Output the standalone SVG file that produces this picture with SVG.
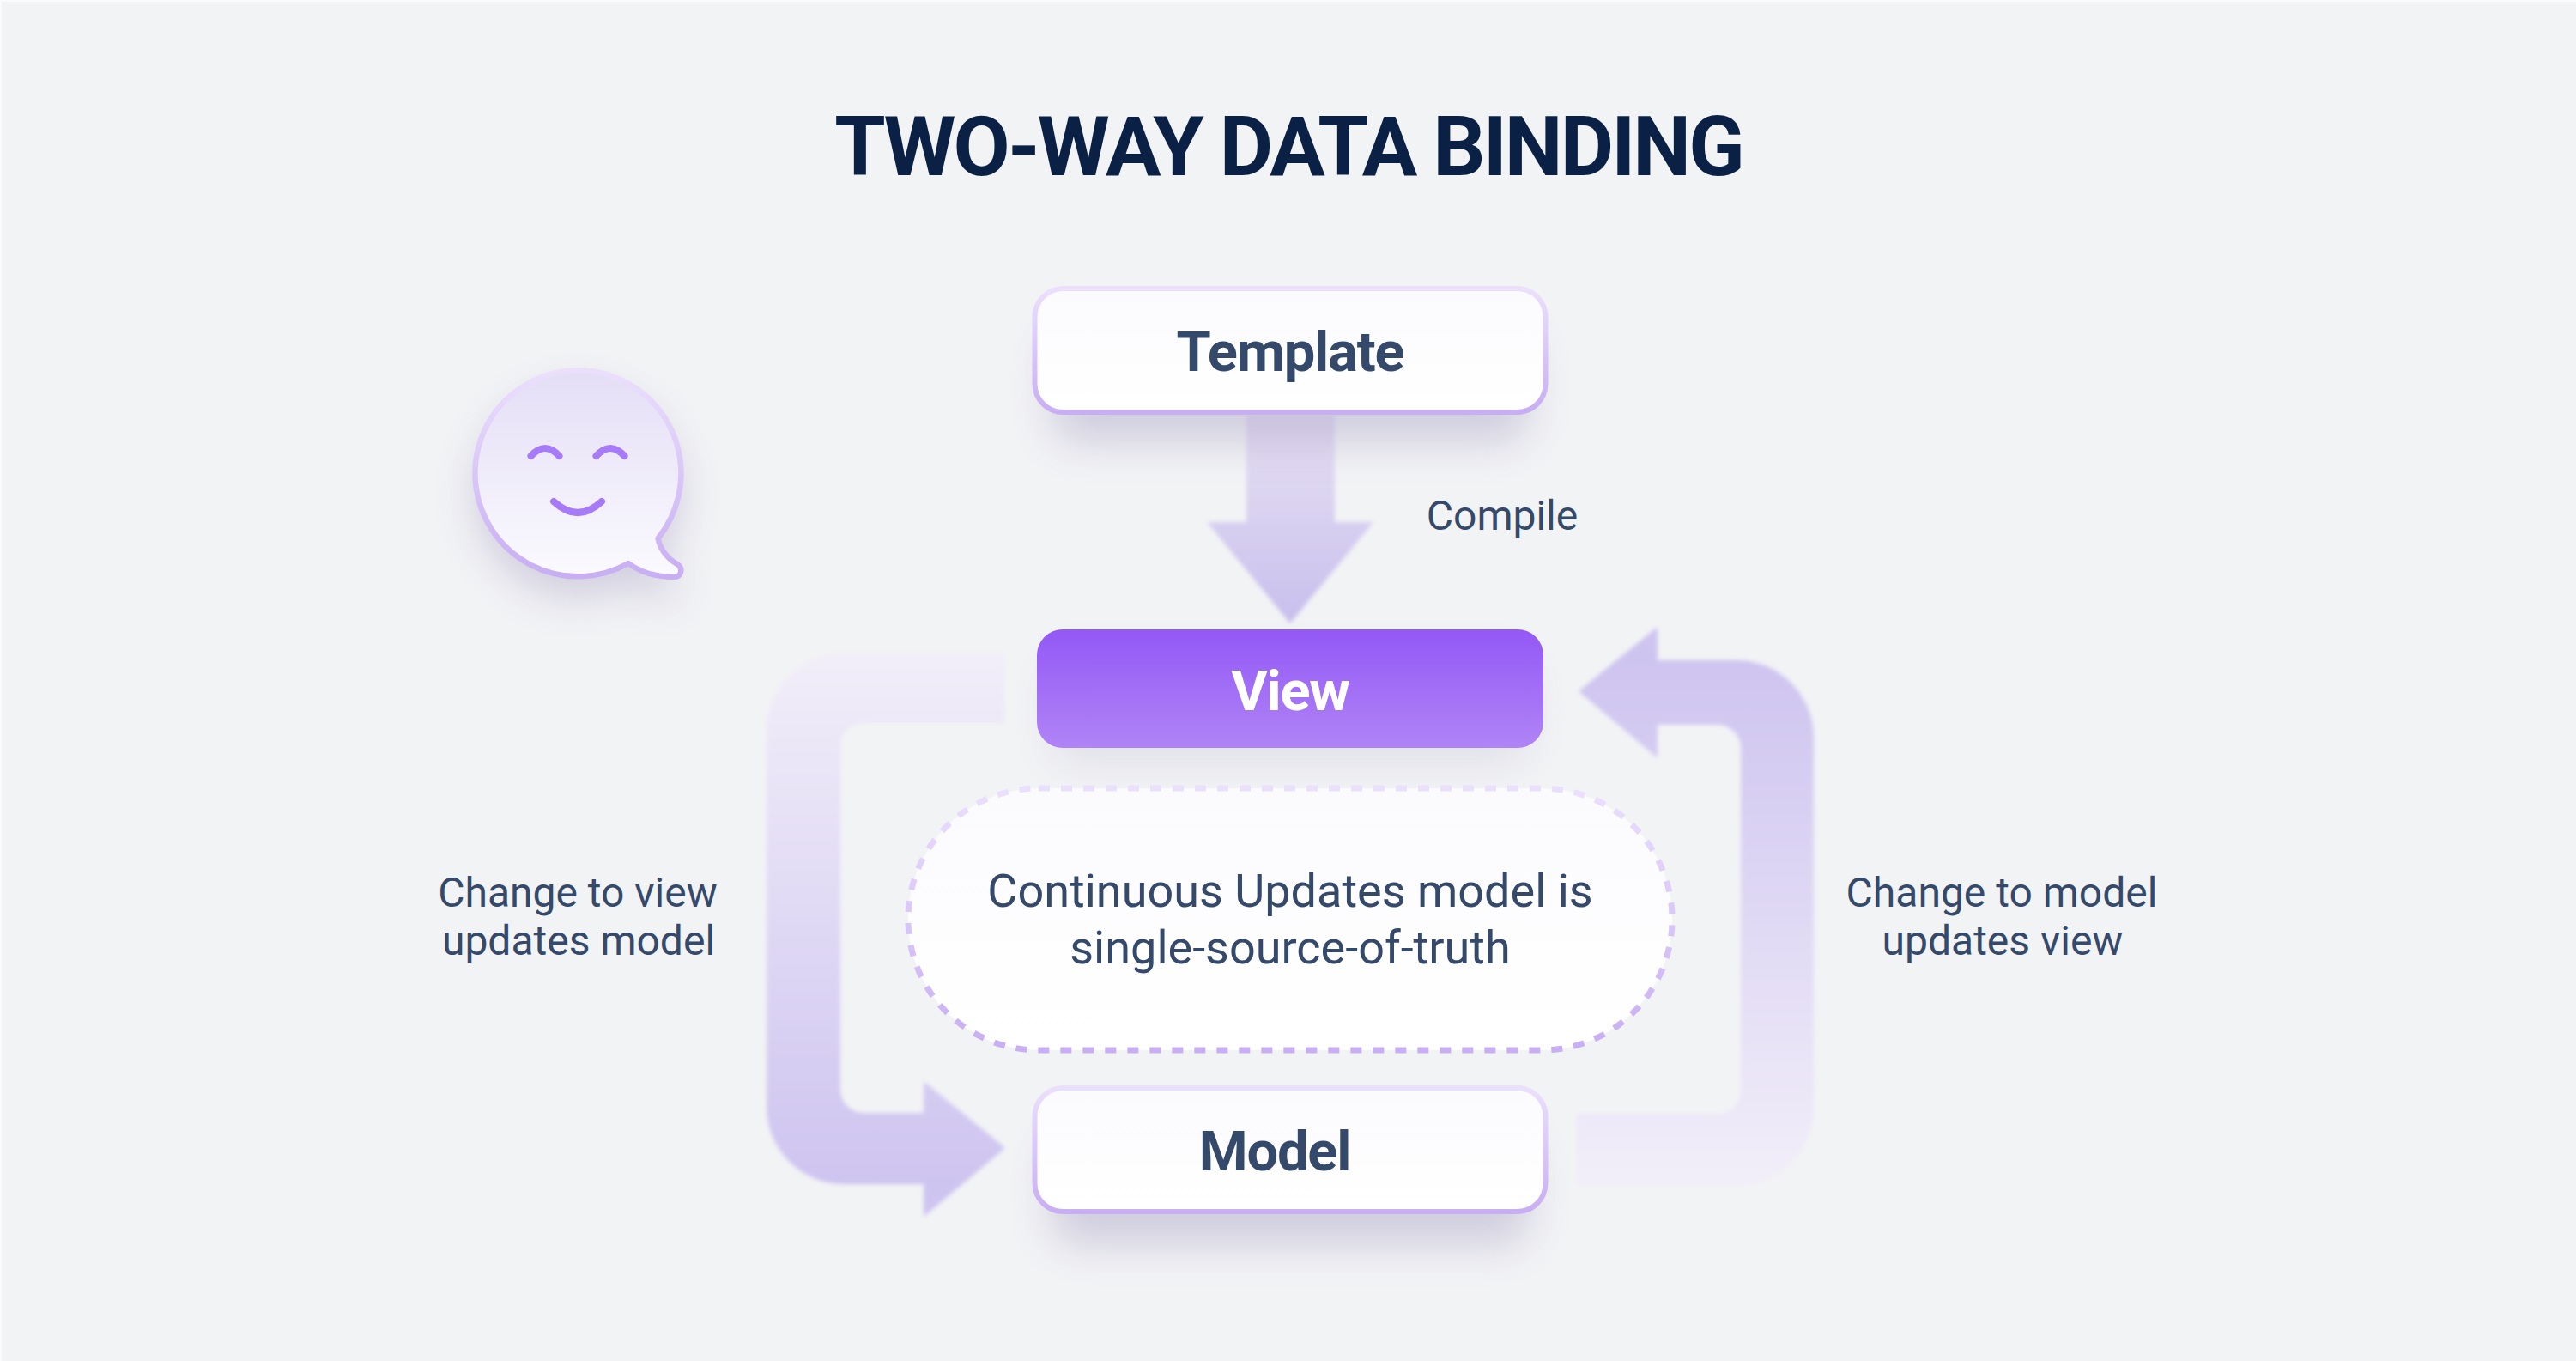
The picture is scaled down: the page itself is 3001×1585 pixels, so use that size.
<svg xmlns="http://www.w3.org/2000/svg" width="3001" height="1585" viewBox="0 0 3001 1585">
<style>
text{font-family:Roboto,"Liberation Sans",sans-serif;text-anchor:middle;fill:#35496b}
.title{font-size:96px;font-weight:700;fill:#0b2045;letter-spacing:-2.9px}
.head{font-size:65px;font-weight:700;letter-spacing:-1.2px}
.lab{font-size:48px;font-weight:400}
.mid{font-size:54px;font-weight:400}
.shadow{fill:#6f639e;opacity:.26;filter:url(#soft)}
.box{fill:url(#boxFill);stroke:url(#boxStroke);stroke-width:6}
.conn{filter:url(#edge)}
</style>
<defs>
<filter id="soft" x="-30%" y="-80%" width="160%" height="260%"><feGaussianBlur stdDeviation="24"/></filter>
<filter id="edge" x="-5%" y="-5%" width="110%" height="110%"><feGaussianBlur stdDeviation="2.6"/></filter>
<linearGradient id="boxFill" x1="0" y1="0" x2="0" y2="1"><stop offset="0" stop-color="#fbfbfe"/><stop offset="1" stop-color="#ffffff"/></linearGradient>
<linearGradient id="boxStroke" x1="0" y1="0" x2="0" y2="1"><stop offset="0" stop-color="#ebe0fc"/><stop offset="1" stop-color="#c8aef3"/></linearGradient>
<linearGradient id="viewFill" x1="0" y1="0" x2="0" y2="1"><stop offset="0" stop-color="#9358f6"/><stop offset="1" stop-color="#b084f6"/></linearGradient>
<linearGradient id="bubbleFill" x1="0" y1="0" x2="0" y2="1"><stop offset="0" stop-color="#e4def6"/><stop offset="1" stop-color="#fbfafe"/></linearGradient>
<linearGradient id="downFill" gradientUnits="userSpaceOnUse" x1="0" y1="483" x2="0" y2="726"><stop offset="0" stop-color="#e8e1f3"/><stop offset="1" stop-color="#c8bfed"/></linearGradient>
<linearGradient id="leftFill" gradientUnits="userSpaceOnUse" x1="0" y1="758" x2="0" y2="1380"><stop offset="0" stop-color="#f2eef9"/><stop offset="1" stop-color="#cec4f0"/></linearGradient>
<linearGradient id="rightFill" gradientUnits="userSpaceOnUse" x1="0" y1="766" x2="0" y2="1381"><stop offset="0" stop-color="#cec4f0"/><stop offset="1" stop-color="#f2eef9"/></linearGradient>
</defs>
<rect width="3001" height="1585" fill="#fbfbfc"/>
<rect x="2" y="2" width="2999" height="1583" fill="#f2f3f5"/>
<text class="title" x="1501" y="204">TWO-WAY DATA BINDING</text>
<g id="connectors">
<path class="conn" fill="url(#downFill)" d="M1452,483H1555V608H1600L1503,726L1406,608H1452Z"/>
<path class="conn" fill="url(#leftFill)" d="M1170,761V842H1006A27,27 0 0 0 979,869V1269A27,27 0 0 0 1006,1296H1076V1259L1171,1337L1076,1417V1379H983A90,90 0 0 1 893,1289V851A90,90 0 0 1 983,761Z"/>
<path class="conn" fill="url(#rightFill)" d="M1839,805L1931,730V769H2023A90,90 0 0 1 2113,859V1291A90,90 0 0 1 2023,1381H1837V1297H2001A27,27 0 0 0 2028,1270V871A27,27 0 0 0 2001,844H1931V883Z"/>
</g>
<g id="bubble">
<path class="shadow" transform="translate(0,24)" d="M732,656A120,120 0 1 1 766.5,627C769,640 778,651 789,657C796,661 794,672 786,672C768,672 748,668 732,656Z"/>
<path fill="url(#bubbleFill)" stroke="url(#boxStroke)" stroke-width="6.5" stroke-linejoin="round" d="M732,656A120,120 0 1 1 766.5,627C769,640 778,651 789,657C796,661 794,672 786,672C768,672 748,668 732,656Z"/>
<g fill="none" stroke="#a77bf8" stroke-linecap="round" stroke-width="8">
<path d="M618.5,531Q635,513 651.5,531"/>
<path d="M694.5,531Q711,513 727.5,531"/>
<path d="M645,584Q673,610 701,584"/>
</g>
</g>
<g id="template">
<rect class="shadow" x="1225" y="385" width="556" height="130" rx="30"/>
<rect class="box" x="1205.5" y="336" width="595" height="144" rx="33"/>
<text class="head" x="1503" y="432">Template</text>
</g>
<text class="lab" x="1750" y="617">Compile</text>
<g id="view">
<rect class="shadow" style="opacity:.13" x="1225" y="765" width="556" height="125" rx="30"/>
<rect fill="url(#viewFill)" x="1208" y="733" width="590" height="138" rx="30"/>
<text class="head" style="fill:#fff" x="1503" y="827">View</text>
</g>
<g id="note">
<rect x="1058" y="918" width="890" height="305" rx="152" fill="url(#boxFill)" stroke="url(#boxStroke)" stroke-width="7" stroke-dasharray="13 13"/>
<text class="mid" x="1503" y="1056">Continuous Updates model is</text>
<text class="mid" x="1503" y="1122">single-source-of-truth</text>
</g>
<g id="model">
<rect class="shadow" x="1225" y="1320" width="556" height="130" rx="30"/>
<rect class="box" x="1205.5" y="1267" width="595" height="144" rx="33"/>
<text class="head" x="1485" y="1363">Model</text>
</g>
<text class="lab" x="673" y="1056">Change to view</text>
<text class="lab" x="674" y="1112">updates model</text>
<text class="lab" x="2332" y="1056">Change to model</text>
<text class="lab" x="2333" y="1112">updates view</text>
</svg>
